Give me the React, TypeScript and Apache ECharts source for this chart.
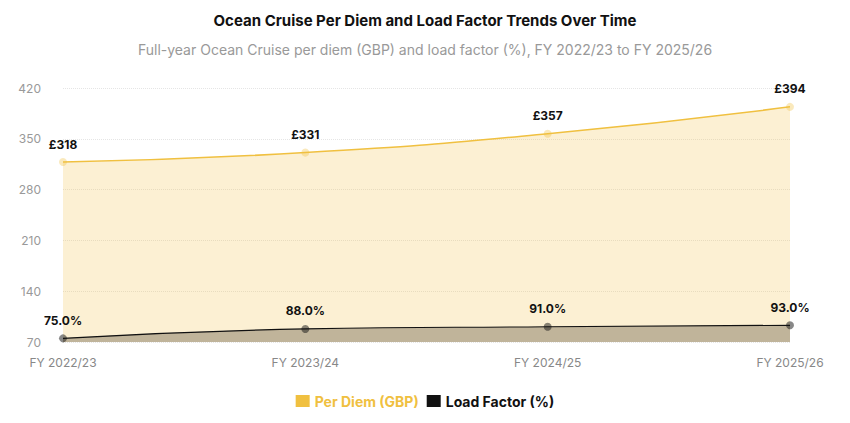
import { useRef, useEffect } from 'react'
import * as echarts from 'echarts'

const categories = ['FY 2022/23', 'FY 2023/24', 'FY 2024/25', 'FY 2025/26']
const perDiem = [318, 331, 357, 394]
const loadFactor = [75, 88, 91, 93]

function App() {
  const chartRef = useRef<HTMLDivElement>(null)

  useEffect(() => {
    if (!chartRef.current) return
    const chart = echarts.init(chartRef.current, null, { renderer: 'svg' })
    chart.setOption({
      animation: false,
      textStyle: { fontFamily: 'Inter, sans-serif' },
      title: {
        text: 'Ocean Cruise Per Diem and Load Factor Trends Over Time',
        subtext: 'Full-year Ocean Cruise per diem (GBP) and load factor (%), FY 2022/23 to FY 2025/26',
        left: 'center',
        top: 0,
        itemGap: 14,
        textStyle: { fontSize: 15, fontWeight: 'bold', color: '#111' },
        subtextStyle: { fontSize: 14, color: '#999' },
      },
      legend: {
        bottom: 2,
        left: 'center',
        itemWidth: 14,
        itemHeight: 12,
        icon: 'rect',
        textStyle: { fontSize: 14, fontWeight: 'bold' },
        data: [
          { name: 'Per Diem (GBP)', itemStyle: { color: '#f0c040' }, textStyle: { color: '#f0c040' } },
          { name: 'Load Factor (%)', itemStyle: { color: '#111' }, textStyle: { color: '#111' } },
        ],
      },
      grid: { left: 55, right: 52, top: 80, bottom: 73 },
      xAxis: {
        type: 'category',
        data: categories,
        boundaryGap: false,
        axisLine: { show: false },
        axisTick: { show: false },
        axisLabel: { color: '#888', fontSize: 12, margin: 14 },
      },
      yAxis: {
        type: 'value',
        min: 70,
        max: 420,
        interval: 70,
        axisLabel: { color: '#999', fontSize: 12, margin: 22 },
        splitLine: { lineStyle: { type: 'dotted', color: '#e5e5e5' } },
      },
      series: [
        {
          name: 'Per Diem (GBP)',
          type: 'line',
          data: perDiem,
          smooth: true,
          symbol: 'circle',
          symbolSize: 8,
          itemStyle: { color: 'rgba(240,192,64,0.35)' },
          lineStyle: { color: '#f0c040', width: 1.5 },
          areaStyle: { color: 'rgba(240,192,64,0.33)' },
          label: {
            show: true,
            position: 'top',
            distance: 8,
            formatter: (p: any) => '£' + p.value,
            color: '#111',
            fontWeight: 'bold',
            fontSize: 12,
          },
        },
        {
          name: 'Load Factor (%)',
          type: 'line',
          data: loadFactor,
          smooth: true,
          symbol: 'circle',
          symbolSize: 8,
          itemStyle: { color: 'rgba(17,17,17,0.5)' },
          lineStyle: { color: '#111', width: 1.2 },
          areaStyle: { color: 'rgba(80,70,50,0.5)' },
          label: {
            show: true,
            position: 'top',
            distance: 8,
            formatter: (p: any) => p.value.toFixed(1) + '%',
            color: '#111',
            fontWeight: 'bold',
            fontSize: 12,
          },
        },
      ],
    })
    return () => chart.dispose()
  }, [])

  return <div ref={chartRef} style={{ width: '834px', height: '407px' }}></div>
}

export default App
